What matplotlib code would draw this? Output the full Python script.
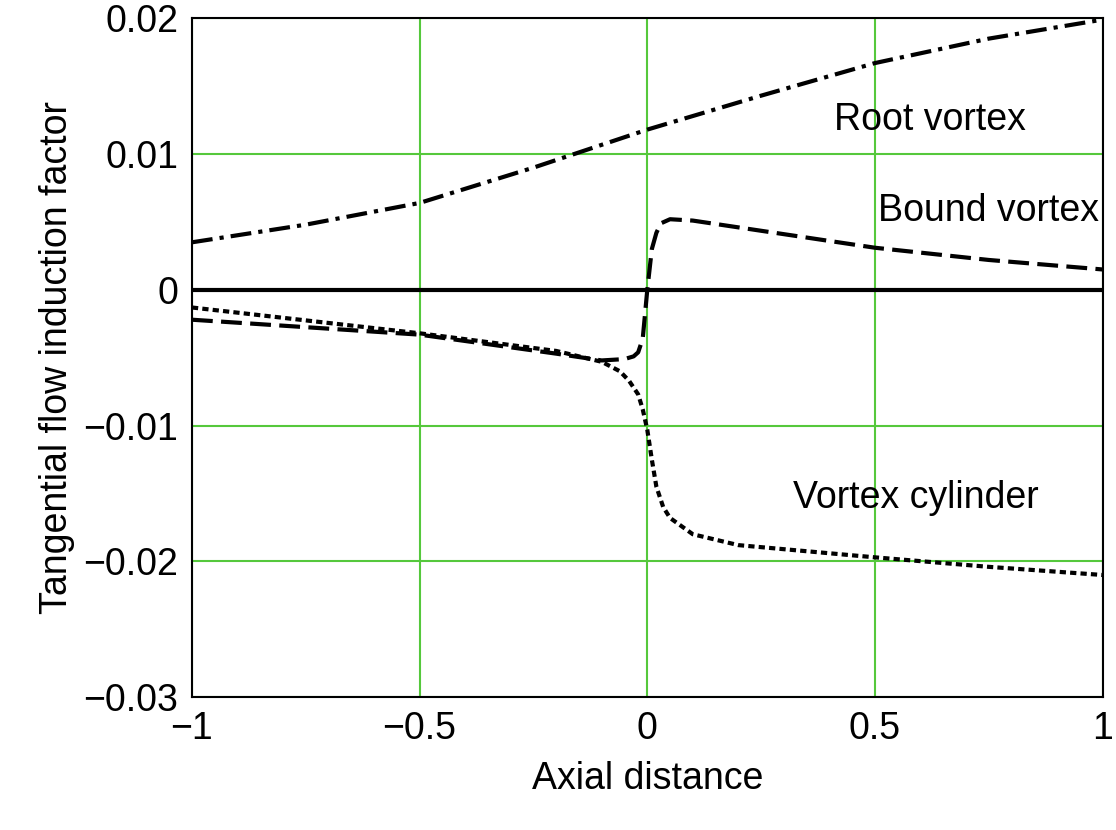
import matplotlib
matplotlib.use("Agg")
import matplotlib.pyplot as plt

# Curve samples
root_x = [-1.0, -0.75, -0.5, -0.25, 0.0, 0.25, 0.5, 0.75, 1.0]
root_y = [0.0035, 0.0048, 0.0064, 0.0090, 0.0118, 0.0143, 0.0167, 0.0185, 0.0199]

bound_x = [-1.0, -0.5, -0.2, -0.1, -0.05, -0.03, -0.02, -0.01, 0.0, 0.01, 0.02, 0.03,
           0.05, 0.1, 0.2, 0.5, 0.75, 1.0]
bound_y = [-0.0022, -0.0033, -0.0047, -0.0052, -0.0051, -0.0049, -0.0046, -0.0036, 0.0,
           0.0030, 0.0042, 0.0049, 0.0052, 0.0051, 0.0046, 0.0031, 0.0022, 0.0015]

cyl_x = [-1.0, -0.5, -0.2, -0.1, -0.06, -0.04, -0.02, -0.01, 0.0, 0.01, 0.02, 0.035,
         0.05, 0.1, 0.2, 0.5, 0.75, 1.0]
cyl_y = [-0.0013, -0.0032, -0.0045, -0.0053, -0.0060, -0.0067, -0.0077, -0.0088, -0.0103,
         -0.0125, -0.0145, -0.0160, -0.0168, -0.0180, -0.0188, -0.0197, -0.0204, -0.0210]

x_ticks = [-1, -0.5, 0, 0.5, 1]
x_labels = ["\u22121", "\u22120.5", "0", "0.5", "1"]
y_ticks = [-0.03, -0.02, -0.01, 0, 0.01, 0.02]
y_labels = ["\u22120.03", "\u22120.02", "\u22120.01", "0", "0.01", "0.02"]

plt.rcParams["font.family"] = "Liberation Sans"
fig = plt.figure(figsize=(11.16, 8.30), dpi=100)
ax = fig.add_axes([0.172, 0.160, 0.816, 0.818])

ax.grid(True, color="#55c83c", linewidth=1.5)
ax.set_axisbelow(True)
ax.axhline(0, color="black", linewidth=3)

# dash lengths scale with linewidth, so keep them short
ax.plot(root_x, root_y, color="black", linewidth=3, dashes=(5, 1.7, 1, 1.7))
ax.plot(bound_x, bound_y, color="black", linewidth=3, dashes=(5, 2))
ax.plot(cyl_x, cyl_y, color="black", linewidth=3, dashes=(1.5, 1))

fs = 27
ax.text(0.62, 0.0125, "Root vortex", fontsize=fs, ha="center", va="center")
ax.text(0.75, 0.0058, "Bound vortex", fontsize=fs, ha="center", va="center")
ax.text(0.59, -0.0153, "Vortex cylinder", fontsize=fs, ha="center", va="center")

ax.set_xlim(-1, 1)
ax.set_ylim(-0.03, 0.02)
ax.set_xticks(x_ticks)
ax.set_xticklabels(x_labels)
ax.set_yticks(y_ticks)
ax.set_yticklabels(y_labels)
ax.tick_params(labelsize=fs, length=0, pad=10)
for s in ax.spines.values():
    s.set_linewidth(1.5)
ax.set_xlabel("Axial distance", fontsize=fs, labelpad=10)
ax.set_ylabel("Tangential flow induction factor", fontsize=fs, labelpad=6)

fig.savefig("out.png", dpi=100)
